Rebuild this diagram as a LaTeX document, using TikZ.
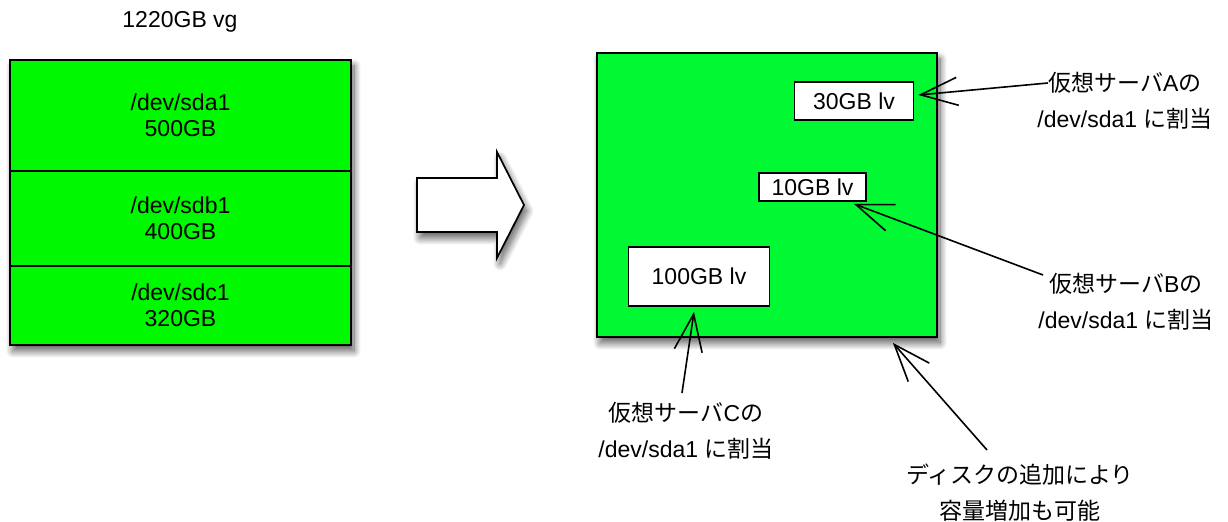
\documentclass[tikz,border=0pt]{standalone}
\usepackage{fontspec}
\setmainfont{Liberation Sans}
\newfontfamily\cjk{Noto Sans CJK JP}
\usetikzlibrary{arrows.meta,shadows.blur}
\definecolor{vggreen}{HTML}{00F800}
\definecolor{lvgreen}{HTML}{00F933}
\tikzset{
  shad/.style={blur shadow={shadow xshift=1.5pt, shadow yshift=-3pt, shadow blur steps=14, shadow blur radius=3.5pt, shadow opacity=65}},
  part/.style={draw, line width=0.85pt, fill=vggreen, minimum width=170.5pt, align=center,
    font=\fontsize{11.5pt}{13pt}\selectfont, inner sep=0pt},
  lvbox/.style={draw, fill=white, line width=0.85pt, font=\fontsize{11.5pt}{14pt}\selectfont, inner sep=0pt},
  lbl/.style={align=center, font=\fontsize{11.5pt}{18pt}\selectfont, inner sep=0pt},
  callout/.style={line width=0.8pt, -{Straight Barb[length=18.5pt,width=14pt,line width=0.8pt]}},
}
\begin{document}
\begin{tikzpicture}[x=0.5pt,y=-0.5pt]
\useasboundingbox (0,0) rectangle (1228,522);
% title
\node[lbl] (title) at (180,22) {1220GB vg};
% left volume group
\node[shad, fill=vggreen, minimum width=170.5pt, minimum height=142.5pt, inner sep=0pt] (vg) at (180.5,202.5) {};
\node[part, minimum height=55.5pt] (sda) at (180.5,115.5) {/dev/sda1\\500GB};
\node[part, minimum height=47.5pt] (sdb) at (180.5,218.5) {/dev/sdb1\\400GB};
\node[part, minimum height=39.5pt] (sdc) at (180.5,305.5) {/dev/sdc1\\320GB};
% hollow arrow
\draw[shad, fill=white, line width=0.85pt, line join=miter]
  (417,178) -- (497,178) -- (497,152) -- (524,205) -- (497,258) -- (497,232) -- (417,232) -- cycle;
% right volume group
\node[shad, draw, line width=0.85pt, fill=lvgreen, minimum width=170pt, minimum height=142pt, inner sep=0pt] (big) at (767,195) {};
\node[lvbox, minimum width=59.5pt, minimum height=19pt] (lvA) at (854,101) {30GB lv};
\node[lvbox, minimum width=53.5pt, minimum height=14pt] (lvB) at (812.5,187) {10GB lv};
\node[lvbox, minimum width=70.5pt, minimum height=29.5pt] (lvC) at (699,276.5) {100GB lv};
% labels
\node[lbl] (labA) at (1125,100.5) {{\cjk 仮想サーバ}A{\cjk の}\\/dev/sda1 {\cjk に割当}};
\node[lbl] (labB) at (1126,301.5) {{\cjk 仮想サーバ}B{\cjk の}\\/dev/sda1 {\cjk に割当}};
\node[lbl] (labC) at (686,431) {{\cjk 仮想サーバ}C{\cjk の}\\/dev/sda1 {\cjk に割当}};
\node[lbl] (labD) at (1020,492.5) {{\cjk ディスクの追加により}\\{\cjk 容量増加も可能}};
% callouts
\coordinate (a0) at (1048,83);
\coordinate (b0) at (1043,275);
\coordinate (c0) at (682,393);
\coordinate (d0) at (987,450);
\draw[callout] (a0) -- ([xshift=2pt,yshift=3pt]lvA.east);
\draw[callout] (b0) -- ([xshift=-6.5pt,yshift=-1pt]lvB.south east);
\draw[callout] (c0) -- ([xshift=-2.5pt,yshift=-2.5pt]lvC.south);
\draw[callout] (d0) -- ([xshift=-22.5pt,yshift=-2.5pt]big.south east);
\end{tikzpicture}
\end{document}
